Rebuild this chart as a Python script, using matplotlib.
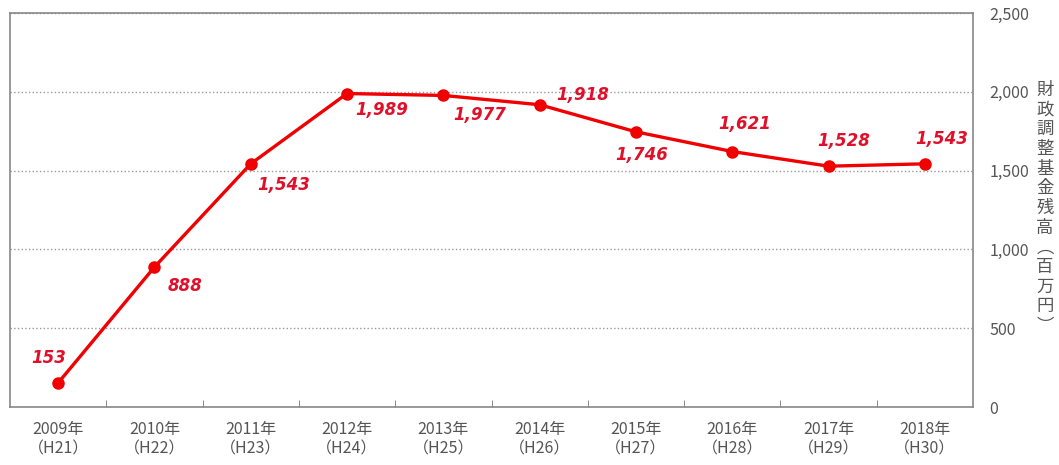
import matplotlib.pyplot as plt

plt.rcParams['font.family'] = ['Noto Sans CJK JP', 'DejaVu Sans']

years = ['2009年', '2010年', '2011年', '2012年', '2013年',
         '2014年', '2015年', '2016年', '2017年', '2018年']
heisei = ['（H21）', '（H22）', '（H23）', '（H24）', '（H25）',
          '（H26）', '（H27）', '（H28）', '（H29）', '（H30）']
balance = [153, 888, 1543, 1989, 1977, 1918, 1746, 1621, 1528, 1543]

# label offsets in points (dx, dy) from each marker
offsets = [(-7, 18), (22, -14), (24, -15), (25, -12), (26, -14),
           (31, 7), (4, -17), (9, 20), (11, 18), (12, 18)]

fig = plt.figure(figsize=(10.59, 4.65), dpi=100)
ax = fig.add_axes([10/1059, 58/465, 963/1059, 394/465])

x = list(range(len(balance)))
ax.plot(x, balance, color='#f00000', lw=2.4, marker='o', ms=8, zorder=3)

for xi, v, (dx, dy) in zip(x, balance, offsets):
    ax.annotate(f'{v:,}', (xi, v), xytext=(dx, dy), textcoords='offset points',
                ha='center', va='center', fontsize=12, color='#e0102a',
                fontweight='bold', fontstyle='italic', family='DejaVu Sans')

ax.set_xlim(-0.5, len(balance) - 0.5)
ax.set_ylim(0, 2500)
ax.set_yticks([0, 500, 1000, 1500, 2000, 2500])
ax.set_yticklabels(['0', '500', '1,000', '1,500', '2,000', '2,500'])
ax.yaxis.tick_right()
ax.tick_params(axis='y', length=0, pad=12, labelsize=11.5, labelcolor='#555555')
ax.grid(axis='y', color='#999999', linestyle=':', lw=1)

ax.set_xticks([i + 0.5 for i in x[:-1]], minor=True)
ax.set_xticks(x)
ax.set_xticklabels([f'{a}\n{b}' for a, b in zip(years, heisei)])
ax.tick_params(axis='x', which='major', length=0, pad=10, labelsize=11.5,
               labelcolor='#555555')
ax.tick_params(axis='x', which='minor', direction='in', length=5,
               color='#777777')

for s in ax.spines.values():
    s.set_color('#888888')
    s.set_linewidth(1.2)

label = '財政調整基金残高︵百万円︶'
fig.text(1045/1059, 1 - 208/465, '\n'.join(label), ha='center', va='center',
         fontsize=12.5, color='#555555', linespacing=1.12)

fig.savefig('out.png', dpi=100)
